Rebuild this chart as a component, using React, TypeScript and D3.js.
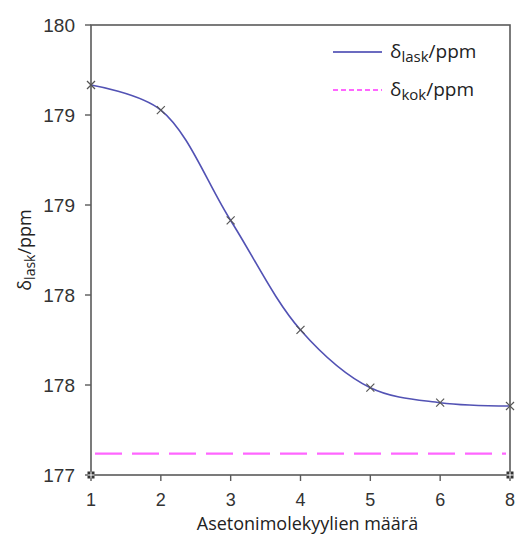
import React from "react";
import * as d3 from "d3";

// molecule counts (categorical x axis)
const categories = ["1", "2", "3", "4", "5", "6", "8"];
// calculated shift, ppm
const deltaLask = [179.6, 179.433, 178.697, 177.967, 177.582, 177.482, 177.46];
// experimental shift, ppm (constant line)
const deltaKok = 177.142;
// y axis ticks (labels shown rounded to integers)
const yTicks = [180, 179.4, 178.8, 178.2, 177.6, 177];
const cornerPoints = [
  { cat: "1", v: 177 },
  { cat: "8", v: 177 },
];

const W = 517;
const H = 536;
const margin = { left: 91, right: 7, top: 25, bottom: 61 };

export default function App() {
  const x = d3
    .scalePoint<string>()
    .domain(categories)
    .range([margin.left, W - margin.right]);
  const y = d3
    .scaleLinear()
    .domain([177, 180])
    .range([H - margin.bottom, margin.top]);

  const pts = categories.map((c, i) => ({ c, v: deltaLask[i] }));
  const line = d3
    .line<{ c: string; v: number }>()
    .x((d) => x(d.c) as number)
    .y((d) => y(d.v))
    .curve(d3.curveCatmullRom.alpha(0.5));

  const fmt = d3.format(".0f");
  const axisColor = "#5a5a5a";
  const x0 = margin.left;
  const x1 = W - margin.right;
  const y0 = H - margin.bottom;
  const y1 = margin.top;
  const titleFont = "'Open Sans', sans-serif";
  const tickFont = "'Liberation Sans', Arial, sans-serif";

  return (
    <svg
      width={W}
      height={H}
      style={{ position: "absolute", left: 0, top: 0, background: "#fff" }}
    >
      {/* frame */}
      <rect x={x0} y={y1} width={x1 - x0} height={y0 - y1} fill="none" stroke={axisColor} strokeWidth={1.6} />

      {/* y ticks */}
      {yTicks.map((t) => (
        <g key={t}>
          <line x1={x0 - 6} x2={x0} y1={y(t)} y2={y(t)} stroke={axisColor} strokeWidth={1.4} />
          <text
            x={x0 - 16}
            y={y(t)}
            dy="0.36em"
            textAnchor="end"
            fontFamily={tickFont}
            fontSize={19}
            fill="#333"
          >
            {fmt(t)}
          </text>
        </g>
      ))}

      {/* x ticks */}
      {categories.map((c) => (
        <g key={c}>
          <line x1={x(c)} x2={x(c)} y1={y0} y2={y0 + 6} stroke={axisColor} strokeWidth={1.4} />
          <text
            x={x(c)}
            y={y0 + 31}
            textAnchor="middle"
            fontFamily={tickFont}
            fontSize={18}
            fill="#333"
          >
            {c}
          </text>
        </g>
      ))}

      {/* experimental line */}
      <line
        x1={x0}
        x2={x1 - 4}
        y1={y(deltaKok)}
        y2={y(deltaKok)}
        stroke="#ff66ff"
        strokeWidth={2.2}
        strokeDasharray="27 10"
        strokeDashoffset={-4}
      />

      {/* calculated curve */}
      <path d={line(pts) ?? ""} fill="none" stroke="#5252b4" strokeWidth={1.6} />
      {pts.map((d) => (
        <g key={d.c} transform={`translate(${x(d.c)},${y(d.v)})`} stroke="#555" strokeWidth={1.2}>
          <line x1={-4} x2={4} y1={-4} y2={4} />
          <line x1={-4} x2={4} y1={4} y2={-4} />
        </g>
      ))}

      {/* corner markers */}
      {cornerPoints.map((d) => (
        <g key={d.cat} transform={`translate(${x(d.cat)},${y(d.v)})`}>
          <rect x={-3.5} y={-3.5} width={7} height={7} fill="#333" />
          <line x1={-3.5} x2={3.5} y1={0} y2={0} stroke="#fff" strokeWidth={1} />
          <line x1={0} x2={0} y1={-3.5} y2={3.5} stroke="#fff" strokeWidth={1} />
        </g>
      ))}

      {/* legend */}
      <line x1={333} x2={382} y1={52} y2={52} stroke="#6b6bc0" strokeWidth={2} />
      <text x={390} y={58} fontFamily={titleFont} fontSize={19} fill="#222">
        δ<tspan fontSize={15} dy={4}>lask</tspan>
        <tspan dy={-4}>/ppm</tspan>
      </text>
      <line x1={333} x2={382} y1={90} y2={90} stroke="#ff66ff" strokeWidth={2} strokeDasharray="5 3" />
      <text x={390} y={96} fontFamily={titleFont} fontSize={19} fill="#222">
        δ<tspan fontSize={15} dy={4}>kok</tspan>
        <tspan dy={-4}>/ppm</tspan>
      </text>

      {/* axis titles */}
      <text
        x={(x0 + x1) / 2 + 7}
        y={H - 6}
        textAnchor="middle"
        fontFamily={titleFont}
        fontSize={18}
        fill="#222"
      >
        Asetonimolekyylien määrä
      </text>
      <text
        transform={`translate(31,${(y0 + y1) / 2}) rotate(-90)`}
        textAnchor="middle"
        fontFamily={titleFont}
        fontSize={18}
        fill="#222"
      >
        δ<tspan fontSize={14} dy={4}>lask</tspan>
        <tspan dy={-4}>/ppm</tspan>
      </text>
    </svg>
  );
}
